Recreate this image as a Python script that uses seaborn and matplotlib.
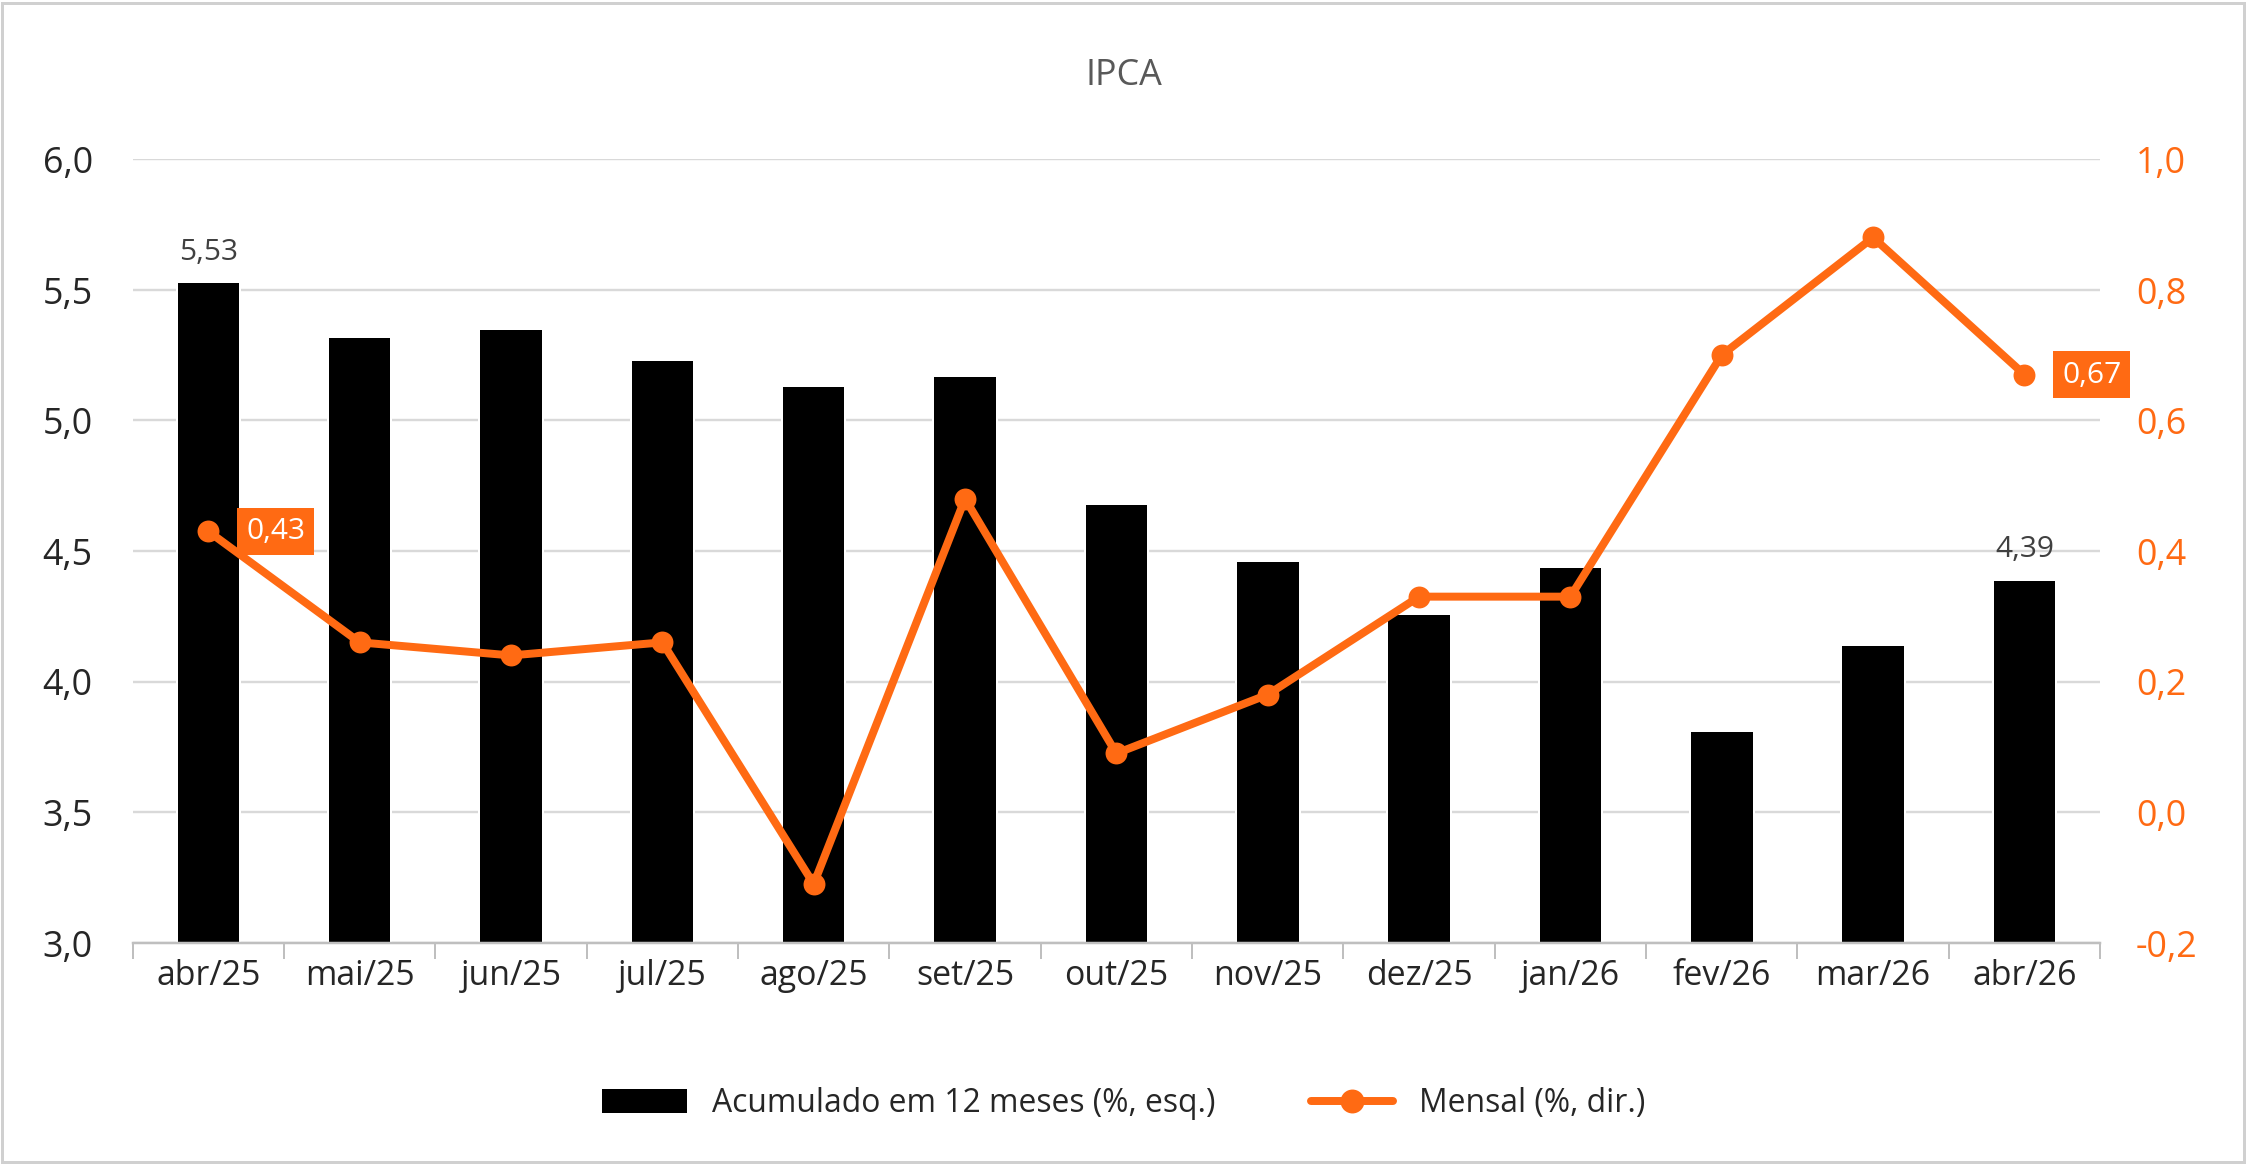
import matplotlib.pyplot as plt
import seaborn as sns
import pandas as pd
from matplotlib.ticker import FuncFormatter
from matplotlib.lines import Line2D
from matplotlib.patches import Patch

sns.set_theme(style="white")
plt.rcParams['font.family'] = ['Open Sans', 'DejaVu Sans']

months = ['abr/25', 'mai/25', 'jun/25', 'jul/25', 'ago/25', 'set/25', 'out/25',
          'nov/25', 'dez/25', 'jan/26', 'fev/26', 'mar/26', 'abr/26']
acum12 = [5.53, 5.32, 5.35, 5.23, 5.13, 5.17, 4.68, 4.46, 4.26, 4.44, 3.81, 4.14, 4.39]
mensal = [0.43, 0.26, 0.24, 0.26, -0.11, 0.48, 0.09, 0.18, 0.33, 0.33, 0.70, 0.88, 0.67]

orange = '#FF6A13'
gray = '#404040'
df = pd.DataFrame({'mes': months, 'acum': acum12, 'mensal': mensal})

fig = plt.figure(figsize=(15.68, 8.12), dpi=143.4)
ax = fig.add_axes([0.059, 0.19, 0.875, 0.673])
sns.barplot(data=df, x='mes', y='acum', color='black', width=0.42, ax=ax, saturation=1)
ax.set_ylim(3.0, 6.0)
ax.set_yticks([3.0, 3.5, 4.0, 4.5, 5.0, 5.5, 6.0])
comma = lambda fmt: FuncFormatter(lambda v, p: format(v, fmt).replace('.', ','))
ax.yaxis.set_major_formatter(comma('.1f'))
ax.set_xlim(-0.5, len(months) - 0.5)
ax.set_xlabel('')
ax.set_ylabel('')
ax.grid(axis='y', color='#d9d9d9', lw=1.2)
ax.set_axisbelow(True)
for s in ['top', 'right', 'left']:
    ax.spines[s].set_visible(False)
ax.spines['bottom'].set_color('#bfbfbf')
ax.tick_params(axis='x', length=8, color='#bfbfbf', labelsize=17, labelcolor='#262626', pad=8, bottom=True)
ax.tick_params(axis='y', length=0, labelsize=18, labelcolor='#262626', pad=20)
ax.set_xticks(range(len(months)))
ax.set_xticks([i + 0.5 for i in range(-1, len(months))], minor=True)
ax.tick_params(axis='x', which='major', length=0)
ax.tick_params(axis='x', which='minor', length=8, color='#bfbfbf', bottom=True)

for i in [0, len(months) - 1]:
    ax.text(i, acum12[i] + 0.06, f'{acum12[i]:.2f}'.replace('.', ','), ha='center',
            va='bottom', fontsize=15, color=gray)

ax2 = ax.twinx()
sns.lineplot(x=list(range(len(months))), y=mensal, ax=ax2, color=orange, lw=4,
             marker='o', markersize=11, markeredgewidth=0)
ax2.set_ylim(-0.2, 1.0)
ax2.set_yticks([-0.2, 0.0, 0.2, 0.4, 0.6, 0.8, 1.0])
ax2.yaxis.set_major_formatter(comma('.1f'))
ax2.tick_params(axis='y', length=0, labelsize=18, labelcolor=orange, pad=18)
for s in ax2.spines.values():
    s.set_visible(False)
for i in [0, len(months) - 1]:
    ax2.text(i + 0.25, mensal[i], f'{mensal[i]:.2f}'.replace('.', ','), ha='left',
             va='center', fontsize=15, color='white',
             bbox=dict(boxstyle='square,pad=0.3', fc=orange, ec='none'))

fig.text(0.5, 0.935, 'IPCA', ha='center', va='center', fontsize=18, color='#595959')
handles = [Patch(color='black'),
           Line2D([], [], color=orange, lw=4, marker='o', markersize=11)]
fig.legend(handles, ['Acumulado em 12 meses (%, esq.)', 'Mensal (%, dir.)'],
           loc='center', bbox_to_anchor=(0.5, 0.052), ncol=2, frameon=False,
           fontsize=16, handlelength=2.6, columnspacing=3)
fig.patches.append(plt.Rectangle((0.001, 0.002), 0.997, 0.995, transform=fig.transFigure,
                                 fill=False, ec='#d0d0d0', lw=1.5))
fig.savefig('out.png', dpi=143.4)
